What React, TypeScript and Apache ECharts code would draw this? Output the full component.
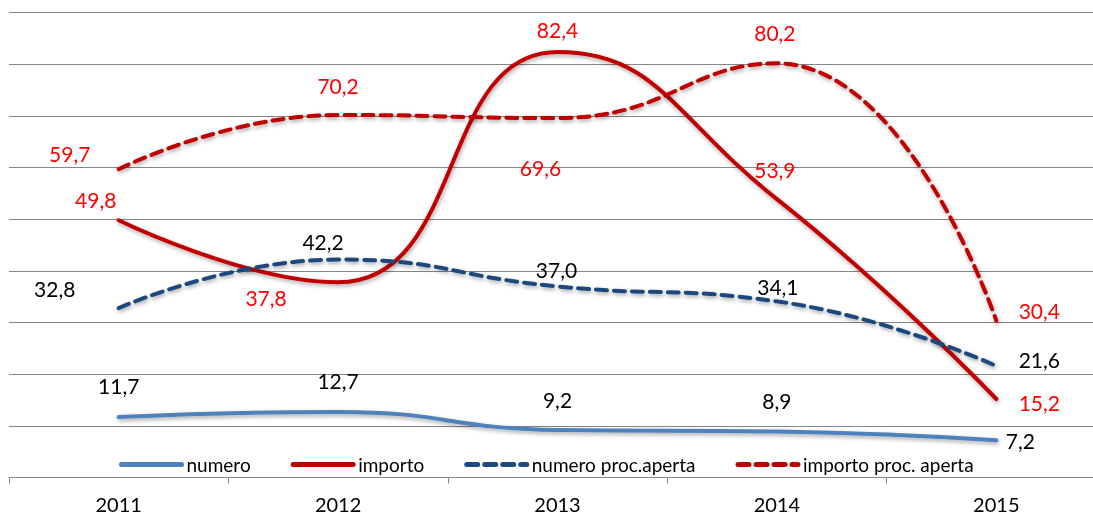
import React, { useEffect, useRef } from "react";
import * as echarts from "echarts";

const categories = ["2011", "2012", "2013", "2014", "2015"];
const seriesNames = ["numero", "importo", "numero proc.aperta", "importo proc. aperta"];
const numero = [11.7, 12.7, 9.2, 8.9, 7.2];
const importo = [49.8, 37.8, 82.4, 53.9, 15.2];
const numeroProcAperta = [32.8, 42.2, 37.0, 34.1, 21.6];
const importoProcAperta = [59.7, 70.2, 69.6, 80.2, 30.4];

// label offsets (label centre relative to point), px
const numeroLabelOffsets = [[0, -32], [0, -31], [0, -30], [0, -31], [24, 0]];
const importoLabelOffsets = [[-23, -21], [-72, 15], [0, -22], [-2, -30], [43, 3]];
const numeroProcLabelOffsets = [[-64, -20], [-15, -18], [-1, -17], [1, -15], [43, -6]];
const importoProcLabelOffsets = [[-49, -16], [0, -29], [-17, 49], [-2, -31], [43, -10]];

const FONT = "Lato, Carlito, Calibri, sans-serif";

function fmt(v: number) {
  return v.toFixed(1).replace(".", ",");
}

function buildData(values: number[], offsets: number[][], color: string) {
  return values.map((v, i) => ({
    value: v,
    label: {
      show: true,
      position: "inside",
      offset: offsets[i],
      color,
      fontSize: 21,
      fontFamily: FONT,
      formatter: (p: any) => fmt(p.value),
    },
  }));
}

export default function App() {
  const ref = useRef<HTMLDivElement>(null);
  useEffect(() => {
    document.body.style.margin = "0";
    const chart = echarts.init(ref.current!, undefined, { renderer: "svg" });
    const shadow = {
      shadowBlur: 4,
      shadowColor: "rgba(0,0,0,0.35)",
      shadowOffsetX: 1,
      shadowOffsetY: 2,
    };
    const mk = (
      name: string,
      values: number[],
      offsets: number[][],
      color: string,
      labelColor: string,
      dashed: boolean
    ) => ({
      name,
      type: "line",
      smooth: 0.5,
      symbol: "circle",
      symbolSize: 1,
      itemStyle: { color: "rgba(0,0,0,0)", borderWidth: 0 },
      lineStyle: {
        color,
        width: 4,
        type: dashed ? [11, 7] : "solid",
        cap: "round",
        ...shadow,
      },
      emphasis: { disabled: true },
      data: buildData(values, offsets, labelColor),
      z: dashed ? 3 : 2,
    });
    chart.setOption({
      animation: false,
      grid: { left: 9, top: 12.7, width: 1097, height: 464.8 },
      legend: {
        data: seriesNames,
        left: 114,
        top: 450,
        itemWidth: 60,
        itemHeight: 16,
        itemGap: 40,
        itemStyle: { opacity: 0 },
        lineStyle: { width: 5, cap: "round" },
        textStyle: { fontSize: 19, fontFamily: FONT, color: "#000" },
      },
      xAxis: {
        type: "category",
        data: categories,
        boundaryGap: true,
        axisLine: { lineStyle: { color: "#868686", width: 1 } },
        axisTick: { show: true, length: 6, lineStyle: { color: "#868686" } },
        axisLabel: { fontSize: 20, fontFamily: FONT, color: "#000", margin: 16 },
      },
      yAxis: {
        type: "value",
        min: 0,
        max: 90,
        interval: 10,
        axisLabel: { show: false },
        axisLine: { show: false },
        axisTick: { show: false },
        splitLine: { lineStyle: { color: "#868686", width: 1 } },
      },
      series: [
        mk(seriesNames[0], numero, numeroLabelOffsets, "#4F81BD", "#000", false),
        mk(seriesNames[1], importo, importoLabelOffsets, "#C00000", "#FF0000", false),
        mk(seriesNames[2], numeroProcAperta, numeroProcLabelOffsets, "#1F497D", "#000", true),
        mk(seriesNames[3], importoProcAperta, importoProcLabelOffsets, "#C00000", "#FF0000", true),
      ],
    });
    return () => chart.dispose();
  }, []);
  return (
    <div style={{ position: "fixed", left: 0, top: 0, width: 1093, height: 517, overflow: "hidden" }}>
      <div ref={ref} style={{ width: 1110, height: 517 }} />
    </div>
  );
}
